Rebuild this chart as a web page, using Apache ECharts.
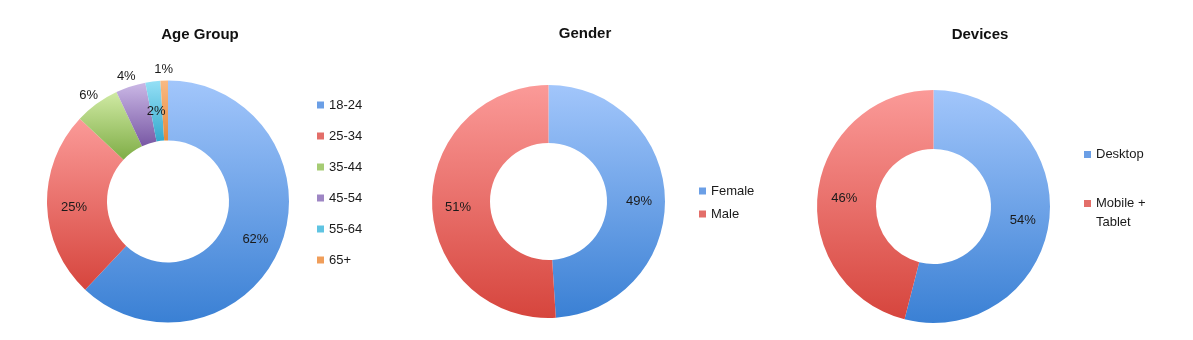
<!DOCTYPE html>
<html>
<head>
<meta charset="utf-8">
<script src="https://cdn.jsdelivr.net/npm/echarts@6/dist/echarts.min.js"></script>
<style>
html,body{margin:0;padding:0;background:#fff;}
#c{width:1193px;height:340px;}
</style>
</head>
<body>
<div id="c"></div>
<script>
// ---- data ----
const ageCategories = ['18-24', '25-34', '35-44', '45-54', '55-64', '65+'];
const ageValues = [62, 25, 6, 4, 2, 1];
const genderCategories = ['Female', 'Male'];
const genderValues = [49, 51];
const deviceCategories = ['Desktop', 'Mobile + Tablet'];
const deviceValues = [54, 46];
const titles = ['Age Group', 'Gender', 'Devices'];

// ---- styles ----
const FONT = '"Liberation Sans", Arial, sans-serif';
const TEXT = '#1a1a1a';
function grad(top, bottom) {
  return new echarts.graphic.LinearGradient(0, 0, 0, 1, [
    { offset: 0, color: top }, { offset: 1, color: bottom }
  ]);
}
const PALETTE = [
  ['#a2c6fb', '#3a80d4', '#6b9fe6'],
  ['#fb9a98', '#d6453d', '#e36e69'],
  ['#d0eaa4', '#7fad46', '#a6cc74'],
  ['#cbb8e6', '#7858a4', '#9e86c4'],
  ['#95e0f6', '#34a9cd', '#5fc4e2'],
  ['#f9ba84', '#e5893a', '#f09e5a']
];
const ageOuterLabel = [false, false, true, true, false, true];

const labelStyle = { color: TEXT, fontFamily: FONT, fontSize: 13, offset: [0, 3] };

function mainData(cats, vals, outer) {
  return cats.map((c, i) => ({
    name: c, value: vals[i],
    itemStyle: { color: grad(PALETTE[i][0], PALETTE[i][1]) },
    label: { show: !(outer && outer[i]) }
  }));
}
function legendData(cats) {
  return cats.map((c, i) => ({ name: c, itemStyle: { color: PALETTE[i][2] } }));
}

const chart = echarts.init(document.getElementById('c'), null, { renderer: 'canvas' });

const titleStyle = { fontFamily: FONT, fontSize: 15, fontWeight: 'bold', color: '#111' };
const legendBase = {
  orient: 'vertical', icon: 'rect', itemWidth: 7, itemHeight: 7, padding: 0,
  selectedMode: false
};

const option = {
  animation: false,
  backgroundColor: '#fff',
  title: [
    { text: titles[0], left: 195, top: 22, textAlign: 'center', textStyle: titleStyle },
    { text: titles[1], left: 580, top: 21, textAlign: 'center', textStyle: titleStyle },
    { text: titles[2], left: 975, top: 22, textAlign: 'center', textStyle: titleStyle }
  ],
  legend: [
    Object.assign({}, legendBase, {
      data: legendData(ageCategories), left: 317, top: 98, itemGap: 17,
      textStyle: { fontFamily: FONT, fontSize: 13, color: TEXT, lineHeight: 14 } }),
    Object.assign({}, legendBase, {
      data: legendData(genderCategories), left: 699, top: 184, itemGap: 9,
      textStyle: { fontFamily: FONT, fontSize: 13, color: TEXT, lineHeight: 14 } }),
    Object.assign({}, legendBase, {
      data: legendData(deviceCategories), left: 1084, top: 145, itemGap: 11,
      formatter: n => n.indexOf(' Tablet') >= 0 ? '\u00a0\n' + n.replace(' Tablet', '\nTablet') : n,
      textStyle: { fontFamily: FONT, fontSize: 13, color: TEXT, lineHeight: 19 } })
  ],
  series: [
    { type: 'pie', name: 'Age Group', center: [168, 201.5], radius: [61, 121],
      startAngle: 90, clockwise: true, avoidLabelOverlap: false, silent: true,
      itemStyle: { borderWidth: 0 },
      label: Object.assign({ position: 'inside', formatter: '{c}%' }, labelStyle),
      labelLine: { show: false },
      data: mainData(ageCategories, ageValues, ageOuterLabel) },
    // label ring for the small age slices (transparent, labels only)
    { type: 'pie', center: [168, 201.5], radius: [121, 143],
      startAngle: 90, clockwise: true, avoidLabelOverlap: false, silent: true,
      legendHoverLink: false,
      itemStyle: { color: 'rgba(0,0,0,0)', borderWidth: 0 },
      label: Object.assign({ position: 'inside', formatter: '{c}%' }, labelStyle),
      labelLine: { show: false },
      data: ageValues.map((v, i) => ({ value: v, label: { show: ageOuterLabel[i] } })) },
    { type: 'pie', name: 'Gender', center: [548.5, 201.5], radius: [58.5, 116.5],
      startAngle: 90, clockwise: true, avoidLabelOverlap: false, silent: true,
      itemStyle: { borderWidth: 0 },
      label: Object.assign({ position: 'inside', formatter: '{c}%' }, labelStyle),
      labelLine: { show: false },
      data: mainData(genderCategories, genderValues) },
    { type: 'pie', name: 'Devices', center: [933.5, 206.5], radius: [57.5, 116.5],
      startAngle: 90, clockwise: true, avoidLabelOverlap: false, silent: true,
      itemStyle: { borderWidth: 0 },
      label: Object.assign({ position: 'inside', formatter: '{c}%' }, labelStyle),
      labelLine: { show: false },
      data: mainData(deviceCategories, deviceValues) }
  ]
};
chart.setOption(option);
</script>
</body>
</html>
